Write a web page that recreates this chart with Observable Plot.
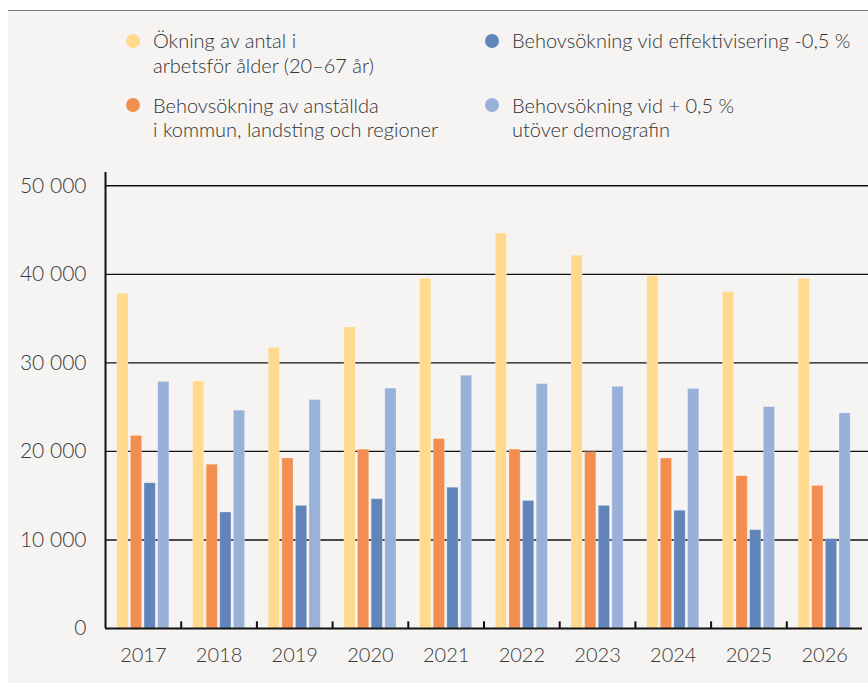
<!DOCTYPE html>
<html>
<head>
<meta charset="utf-8">
<script src="https://cdn.jsdelivr.net/npm/d3@7"></script>
<script src="https://cdn.jsdelivr.net/npm/@observablehq/plot@0.6"></script>
<style>
  html, body { margin: 0; padding: 0; background: #ffffff; }
  body { width: 868px; height: 683px; position: relative; overflow: hidden; font-family: "Lato", "Open Sans", sans-serif; }
  #panel { position: absolute; left: 8px; top: 10px; width: 860px; height: 673px; background: #f5f4f2; border-top: 1.5px solid #777; box-sizing: border-box; }
  .item { position: absolute; font-size: 20px; line-height: 24.5px; color: #333; font-weight: 300; white-space: nowrap; }
  .dot { position: absolute; width: 14px; height: 14px; border-radius: 50%; }
  #chart { position: absolute; left: 0; top: 150px; }
</style>
</head>
<body>
<div id="panel"></div>
<div id="legend"></div>
<div id="chart"></div>
<script>
const years = [2017, 2018, 2019, 2020, 2021, 2022, 2023, 2024, 2025, 2026];
const seriesNames = [
  "Ökning av antal i arbetsför ålder (20–67 år)",
  "Behovsökning av anställda i kommun, landsting och regioner",
  "Behovsökning vid effektivisering -0,5 %",
  "Behovsökning vid + 0,5 % utöver demografin"
];
const legendLines = [
  ["Ökning av antal i", "arbetsför ålder (20–67 år)"],
  ["Behovsökning av anställda", "i kommun, landsting och regioner"],
  ["Behovsökning vid effektivisering -0,5 %"],
  ["Behovsökning vid + 0,5 %", "utöver demografin"]
];
const colors = ["#fed98e", "#f28e4f", "#6185ba", "#99b1d8"];
const okning    = [37800, 27900, 31700, 34000, 39500, 44600, 42100, 39800, 38000, 39500];
const anstallda = [21750, 18500, 19200, 20200, 21400, 20200, 19900, 19200, 17200, 16100];
const effektiv  = [16400, 13100, 13850, 14600, 15900, 14400, 13850, 13300, 11100, 10100];
const plus05    = [27850, 24600, 25800, 27100, 28550, 27600, 27300, 27050, 25000, 24300];
const yTicks = [0, 10000, 20000, 30000, 40000, 50000];

const seriesValues = [okning, anstallda, effektiv, plus05];
const data = [];
years.forEach((yr, i) => {
  seriesValues.forEach((vals, s) => {
    data.push({year: yr, s, series: seriesNames[s], value: vals[i]});
  });
});

// legend
const legendPos = [[133, 28], [133, 92.5], [492, 28], [492, 92.5]];
const legend = document.getElementById("legend");
legendLines.forEach((lines, i) => {
  const [cx, top] = legendPos[i];
  const dot = document.createElement("div");
  dot.className = "dot";
  dot.style.left = (cx - 7) + "px";
  dot.style.top = (top + 5.5) + "px";
  dot.style.background = colors[i];
  legend.appendChild(dot);
  const t = document.createElement("div");
  t.className = "item";
  t.style.left = (cx + 20) + "px";
  t.style.top = top + "px";
  t.innerHTML = lines.join("<br>");
  legend.appendChild(t);
});

const step = 0.18, bw = 0.148;
const fmt = d => d3.format(",")(d).replace(/,/g, " ");

const chart = Plot.plot({
  width: 868,
  height: 533,
  marginLeft: 105,
  marginRight: 6,
  marginTop: 22,
  marginBottom: 55,
  style: {background: "transparent", fontFamily: "Lato, 'Open Sans', sans-serif", color: "#3a3a3a"},
  x: {domain: [years[0] - 0.5, years[years.length - 1] + 0.5]},
  y: {domain: [0, 51500]},
  color: {domain: seriesNames, range: colors},
  marks: [
    Plot.ruleY(yTicks.slice(1), {x1: years[0] - 0.5, x2: years[years.length - 1] + 0.58, stroke: "#111", strokeWidth: 1.4}),
    Plot.rect(data, {
      x1: d => d.year + (d.s - 1.5) * step - bw / 2,
      x2: d => d.year + (d.s - 1.5) * step + bw / 2,
      y1: 0,
      y2: "value",
      fill: "series",
      stroke: "#ffffff",
      strokeOpacity: 0.3,
      strokeWidth: 0.8
    }),
    Plot.ruleX([years[0] - 0.5], {y1: 0, y2: 51500, stroke: "#111", strokeWidth: 2}),
    Plot.ruleY([0], {x1: years[0] - 0.5, x2: years[years.length - 1] + 0.5, stroke: "#111", strokeWidth: 2}),
    Plot.ruleX(years.slice(0, -1).map(y => y + 0.5), {y1: 0, y2: 750, stroke: "#111", strokeWidth: 2}),
    Plot.axisY({ticks: yTicks, tickSize: 0, tickPadding: 19, tickFormat: fmt, fontSize: 21, fontWeight: 300, label: null, fill: "#3a3a3a"}),
    Plot.axisX({ticks: years, tickSize: 0, tickPadding: 19, tickFormat: d => String(d), fontSize: 20, fontWeight: 300, label: null, fill: "#3a3a3a"})
  ]
});
document.getElementById("chart").appendChild(chart);
</script>
</body>
</html>
